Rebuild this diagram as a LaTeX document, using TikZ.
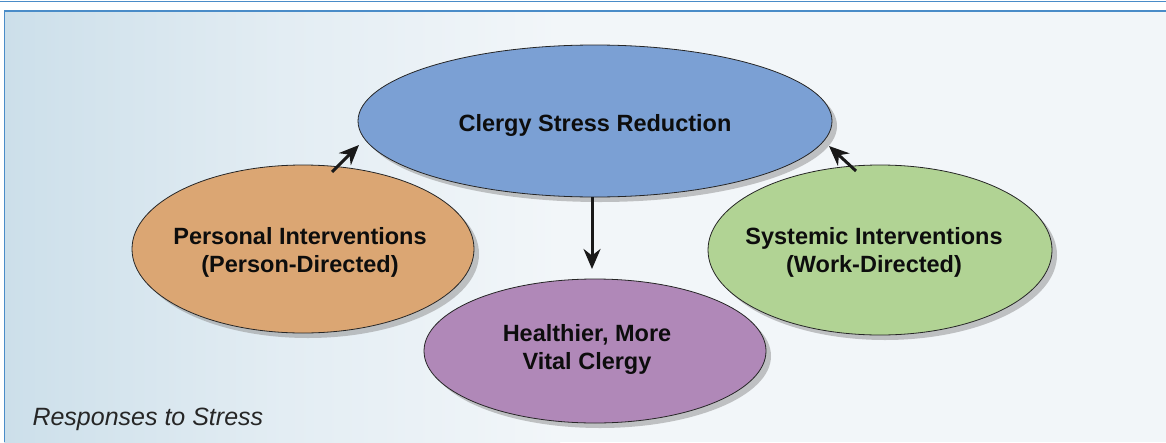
\documentclass[tikz,border=0pt]{standalone}
\usepackage{fontspec}
\setmainfont{Liberation Sans}
\usetikzlibrary{shapes.geometric,shadows,arrows.meta}
\definecolor{cblue}{HTML}{7BA0D4}
\definecolor{corange}{HTML}{DBA673}
\definecolor{cpurple}{HTML}{B088B8}
\definecolor{cgreen}{HTML}{B1D394}
\definecolor{bgleft}{HTML}{CCDFEA}
\definecolor{bgright}{HTML}{F2F6F9}
\definecolor{frame}{HTML}{4A8CC8}
\tikzset{
  oval/.style={ellipse, draw=black!85, line width=0.8pt, inner sep=0pt,
    drop shadow={shadow xshift=5pt, shadow yshift=-5pt, fill=black!45, opacity=0.5}},
  lbl/.style={font=\bfseries\fontsize{23.5}{28}\selectfont, align=center, inner sep=0pt, text=black!95},
  arr/.style={-{Stealth[length=20pt,width=17pt]}, line width=3pt, black!90}
}
\begin{document}
\begin{tikzpicture}[x=1pt,y=-1pt]
\useasboundingbox (0,0) rectangle (1166,442);
\fill[white] (0,0) rectangle (1166,442);
\shade[left color=bgleft, right color=bgright, middle color=bgright!60!bgleft] (4,11) rectangle (560,442);
\fill[bgright] (560,11) rectangle (1166,442);
\draw[frame, line width=1.2pt] (0,1.5) -- (1166,1.5);
\draw[frame, line width=1.5pt] (4,11) -- (1166,11);
\draw[frame, line width=0.8pt] (4,11) -- (4,442);

\node[oval, fill=cblue, minimum width=474pt, minimum height=152pt] (top) at (595,121) {};
\node[oval, fill=corange, minimum width=342pt, minimum height=168pt] (pers) at (303,249) {};
\node[oval, fill=cgreen, minimum width=344pt, minimum height=170pt] (sys) at (880,250) {};
\node[oval, fill=cpurple, minimum width=342pt, minimum height=144pt] (heal) at (595,351) {};

\node[lbl] (topt) at (595,125) {Clergy Stress Reduction};
\node[lbl] (perst) at (300,252) {Personal Interventions\\(Person-Directed)};
\node[lbl] (syst) at (874,252) {Systemic Interventions\\(Work-Directed)};
\node[lbl] (healt) at (587,349) {Healthier, More\\Vital Clergy};

\coordinate (p1) at (332,172);
\coordinate (p2) at (359,145);
\coordinate (s1) at (856,171);
\coordinate (s2) at (829,146);
\coordinate (d1) at (592,197);
\coordinate (d2) at (592,269);
\draw[arr] (p1) -- (p2);
\draw[arr] (s1) -- (s2);
\draw[arr] (d1) -- (d2);

\node[anchor=base west, font=\itshape\fontsize{25}{28}\selectfont, text=black!85] (cap) at (29,425) {Responses to Stress};
\end{tikzpicture}
\end{document}
